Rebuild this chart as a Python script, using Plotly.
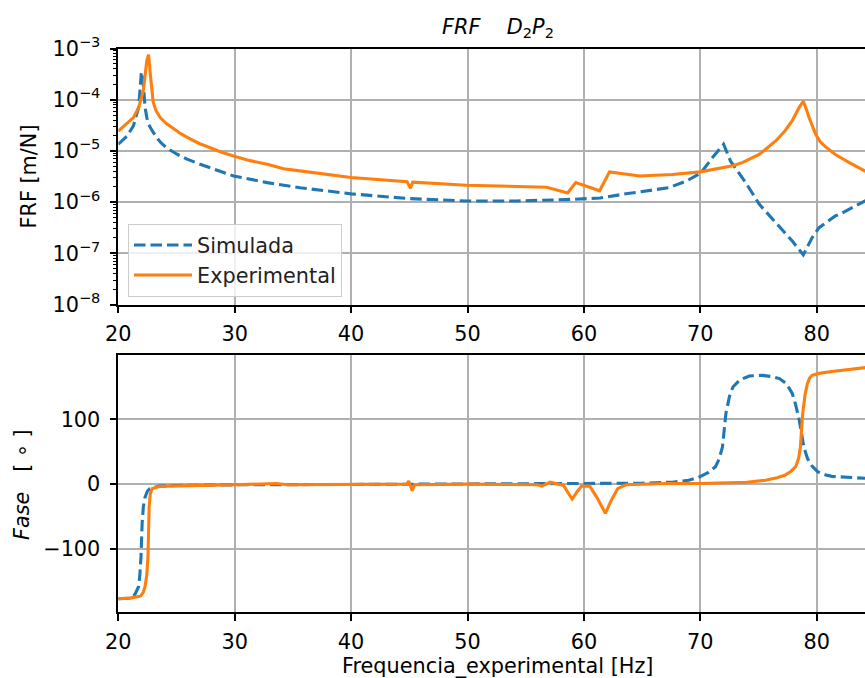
import plotly.graph_objects as go

# ---------------- data ----------------
freq_sim_mag = [20.0, 20.75, 21.3, 21.75, 21.97, 22.02, 22.17, 22.3, 22.45, 22.6, 22.9, 23.3,
                23.7, 24.15, 25.0, 25.9, 26.9, 27.9, 29.9, 32.8, 35.6, 40.0, 45.0, 50.0, 54.2,
                58.5, 61.4, 63.6, 67.3, 68.8, 70.05, 71.05, 72.0, 72.6, 73.9, 75.06, 76.5,
                77.9, 78.85, 79.6, 80.2, 81.6, 82.2, 84.2]
sim_mag = [1.35e-5, 1.95e-5, 3.09e-5, 7.08e-5, 3.16e-4, 3.47e-4, 1.74e-4, 7.08e-5, 4.47e-5,
           3.31e-5, 2.51e-5, 1.82e-5, 1.41e-5, 1.15e-5, 8.71e-6, 6.92e-6, 5.62e-6, 4.68e-6,
           3.24e-6, 2.40e-6, 1.91e-6, 1.45e-6, 1.17e-6, 1.05e-6, 1.05e-6, 1.12e-6, 1.20e-6,
           1.45e-6, 1.91e-6, 2.57e-6, 3.72e-6, 7.41e-6, 1.35e-5, 6.31e-6, 2.40e-6, 9.12e-7,
           3.89e-7, 1.74e-7, 9.33e-8, 2.0e-7, 3.16e-7, 5.37e-7, 6.17e-7, 1.07e-6]

freq_exp_mag = [20.0, 20.7, 21.3, 21.75, 22.15, 22.45, 22.6, 22.75, 22.85, 23.0, 23.25, 23.6,
                24.1, 24.75, 25.4, 26.2, 27.0, 27.9, 28.8, 29.9, 31.3, 32.8, 34.2, 35.6, 37.5,
                40.0, 44.8, 45.1, 45.3, 49.9, 56.8, 57.6, 58.6, 59.3, 59.9, 61.35, 62.2,
                63.05, 64.8, 67.6, 70.0, 72.8, 73.6, 75.06, 76.5, 77.3, 77.9, 78.5, 78.85,
                79.1, 79.35, 79.9, 80.3, 80.77, 81.6, 82.8, 84.2]
exp_mag = [2.45e-5, 3.31e-5, 4.47e-5, 7.08e-5, 1.51e-4, 5.75e-4, 7.59e-4, 3.16e-4, 1.78e-4,
           8.91e-5, 6.03e-5, 4.47e-5, 3.47e-5, 2.69e-5, 2.14e-5, 1.70e-5, 1.38e-5, 1.15e-5,
           9.55e-6, 7.94e-6, 6.46e-6, 5.50e-6, 4.47e-6, 4.07e-6, 3.55e-6, 3.02e-6, 2.51e-6,
           1.86e-6, 2.45e-6, 2.14e-6, 1.95e-6, 1.74e-6, 1.51e-6, 2.40e-6, 2.14e-6, 1.66e-6,
           3.89e-6, 3.63e-6, 3.24e-6, 3.47e-6, 3.89e-6, 5.13e-6, 5.89e-6, 8.51e-6, 1.58e-5,
           2.51e-5, 3.89e-5, 7.08e-5, 9.33e-5, 6.61e-5, 4.47e-5, 2.14e-5, 1.51e-5, 1.20e-5,
           8.51e-6, 5.89e-6, 3.98e-6]

freq_sim_ph = [20.0, 21.2, 21.46, 21.62, 21.75, 21.85, 21.95, 22.05, 22.15, 22.3, 22.5, 22.7,
               23.5, 25.0, 30.0, 40.0, 50.0, 60.0, 65.0, 67.6, 69.0, 69.9, 70.7, 71.3, 71.6,
               71.9, 72.05, 72.2, 72.5, 72.8, 73.4, 74.2, 75.3, 76.2, 76.8, 77.4, 77.9, 78.2,
               78.5, 78.7, 78.9, 79.2, 79.6, 80.1, 80.8, 81.3, 84.2]
sim_phase = [-177, -176, -169, -164, -158, -140, -112, -60, -35, -20, -11, -7,
             -3, -2, -1, -0.5, 0, 0.5, 1.5, 3, 6, 11, 18, 27, 38,
             57, 85, 109, 135, 150, 161, 167, 168, 166, 163, 155, 140, 122,
             99, 78, 57, 40, 28, 19, 14, 12, 9]

freq_exp_ph = [20.0, 21.0, 21.9, 22.15, 22.3, 22.45, 22.55, 22.6, 22.65, 22.75, 22.9, 23.4,
               24.2, 30.0, 33.6, 34.5, 40.0, 44.8, 44.95, 45.25, 45.45, 50.0, 56.0, 56.4,
               57.1, 58.0, 58.25, 58.7, 59.0, 59.4, 59.8, 60.5, 61.1, 61.85, 62.35, 62.9,
               63.6, 67.0, 70.0, 74.0, 75.6, 76.6, 77.3, 77.8, 78.2, 78.45, 78.6, 78.7, 78.8,
               79.0, 79.2, 79.4, 79.6, 80.2, 81.3, 84.2]
exp_phase = [-177, -176, -173, -167, -158, -140, -112, -75, -35, -15, -7, -4,
             -3, -1, 1, -1, -1, 0, 5, -10, -1, 0, -1, -3,
             3, 0, -2, -15, -23, -12, -3, -3, -20, -45, -25, -7,
             -1, 1, 1, 3, 6, 10, 14, 20, 27, 40, 57, 85, 109,
             138, 155, 164, 168, 171, 174, 180]

x_ticks = [20, 30, 40, 50, 60, 70, 80]
mag_tickvals = [1e-8, 1e-7, 1e-6, 1e-5, 1e-4, 1e-3]
mag_ticktext = ["10<sup>\u22128</sup>", "10<sup>\u22127</sup>", "10<sup>\u22126</sup>",
                "10<sup>\u22125</sup>", "10<sup>\u22124</sup>", "10<sup>\u22123</sup>"]
ph_tickvals = [-100, 0, 100]
ph_ticktext = ["\u2212100", "0", "100"]

# ---------------- styling ----------------
W, H = 865, 678
FONT = "DejaVu Sans"
FS = 20.8
BLUE = "#1f77b4"
ORANGE = "#ff7f0e"
GRID = "#b0b0b0"
LW = 3.1

minor_vals = [m * 10 ** e for e in range(-8, -3) for m in range(2, 10)]

fig = go.Figure()
fig.add_trace(go.Scatter(x=freq_sim_mag, y=sim_mag, mode="lines", name="Simulada",
                         line=dict(color=BLUE, width=LW, dash="11.5px,5px"),
                         xaxis="x", yaxis="y"))
fig.add_trace(go.Scatter(x=freq_exp_mag, y=exp_mag, mode="lines", name="Experimental",
                         line=dict(color=ORANGE, width=LW), xaxis="x", yaxis="y"))
fig.add_trace(go.Scatter(x=freq_sim_ph, y=sim_phase, mode="lines", showlegend=False,
                         line=dict(color=BLUE, width=LW, dash="11.5px,5px"),
                         xaxis="x2", yaxis="y2"))
fig.add_trace(go.Scatter(x=freq_exp_ph, y=exp_phase, mode="lines", showlegend=False,
                         line=dict(color=ORANGE, width=LW), xaxis="x2", yaxis="y2"))

x_left = 118.3 / W
top_dom = [(H - 304.5) / H, (H - 48.5) / H]
bot_dom = [(H - 612) / H, (H - 355) / H]

common_x = dict(range=[20, 20 + (W - 118.3) / 11.64], domain=[x_left, 1.0],
                tickvals=x_ticks, ticks="outside", ticklen=7, tickwidth=1.6,
                tickcolor="black", showline=True, linecolor="black", linewidth=1.6,
                mirror=True, showgrid=True, gridcolor=GRID, gridwidth=1.5,
                zeroline=False, ticklabelstandoff=3, automargin=False,
                tickfont=dict(family=FONT, size=FS, color="black"))

common_y = dict(ticks="outside", ticklen=7, tickwidth=1.6, tickcolor="black",
                showline=True, linecolor="black", linewidth=1.6, showgrid=True,
                gridcolor=GRID, gridwidth=1.5, zeroline=False, ticklabelstandoff=5,
                automargin=False, tickfont=dict(family=FONT, size=FS, color="black"))

fig.update_layout(
    width=W, height=H, autosize=False,
    margin=dict(l=0, r=0, t=0, b=0, pad=0),
    paper_bgcolor="white", plot_bgcolor="white",
    font=dict(family=FONT, size=FS, color="black"),
    xaxis=dict(common_x, anchor="y"),
    xaxis2=dict(common_x, anchor="y2"),
    yaxis=dict(common_y, type="log", range=[-8, -3], domain=top_dom, anchor="x",
               tickvals=mag_tickvals, ticktext=mag_ticktext,
               minor=dict(tickmode="array", tickvals=minor_vals, ticks="outside",
                          ticklen=4, tickwidth=1.2, tickcolor="black", showgrid=False)),
    yaxis2=dict(common_y, range=[-197.4, 199.4], domain=bot_dom, anchor="x2",
                tickvals=ph_tickvals, ticktext=ph_ticktext),
    legend=dict(x=128 / W, y=(H - 224) / H, xanchor="left", yanchor="top",
                bgcolor="rgba(255,255,255,0.8)", bordercolor="#cccccc", borderwidth=1,
                font=dict(family=FONT, size=FS, color="#222222"),
                itemwidth=58, tracegroupgap=0),
    showlegend=True,
)

NB = "\u00a0"
fig.add_annotation(text="<i>FRF</i>" + NB * 4 + "<i>D</i><sub>2</sub><i>P</i><sub>2</sub>",
                   x=497.5 / W, y=(H - 28) / H, xref="paper", yref="paper",
                   xanchor="center", yanchor="middle", showarrow=False,
                   font=dict(family=FONT, size=FS, color="black"))
fig.add_annotation(text="Frequencia_experimental [Hz]",
                   x=497 / W, y=(H - 666) / H, xref="paper", yref="paper",
                   xanchor="center", yanchor="middle", showarrow=False,
                   font=dict(family=FONT, size=FS, color="black"))
fig.add_annotation(text="FRF [m/N]", textangle=-90,
                   x=28 / W, y=(H - 176.5) / H, xref="paper", yref="paper",
                   xanchor="center", yanchor="middle", showarrow=False,
                   font=dict(family=FONT, size=FS, color="black"))
fig.add_annotation(text="<i>Fase</i>" + NB * 3 + "[" + NB + "\u2218" + NB + "]", textangle=-90,
                   x=22 / W, y=(H - 485) / H, xref="paper", yref="paper",
                   xanchor="center", yanchor="middle", showarrow=False,
                   font=dict(family=FONT, size=FS, color="black"))

fig.write_html("out.html", config={"displayModeBar": False},
               post_script="document.body.style.margin='0';document.body.style.overflow='hidden';")
